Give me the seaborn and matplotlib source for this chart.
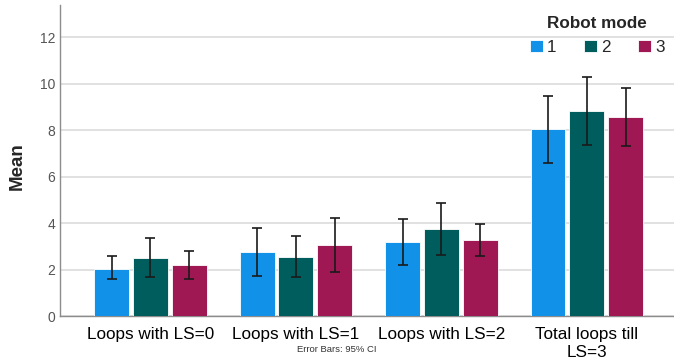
import numpy as np
import pandas as pd
import matplotlib
matplotlib.use("Agg")
import matplotlib.pyplot as plt
import seaborn as sns

# valores (média e IC 95%)
medidas = ["Loops with LS=0", "Loops with LS=1", "Loops with LS=2", "Total loops till\nLS=3"]
modos = ["1", "2", "3"]
media_modo1 = [2.03, 2.75, 3.20, 8.03]
media_modo2 = [2.50, 2.52, 3.74, 8.82]
media_modo3 = [2.20, 3.05, 3.27, 8.54]
ic_inf_modo1 = [1.60, 1.73, 2.19, 6.57]
ic_inf_modo2 = [1.68, 1.66, 2.62, 7.34]
ic_inf_modo3 = [1.60, 1.90, 2.58, 7.31]
ic_sup_modo1 = [2.58, 3.77, 4.19, 9.48]
ic_sup_modo2 = [3.35, 3.44, 4.87, 10.30]
ic_sup_modo3 = [2.80, 4.20, 3.97, 9.79]
cores = ["#1192e8", "#005d5d", "#9f1853"]

medias = [media_modo1, media_modo2, media_modo3]
ic_inf = [ic_inf_modo1, ic_inf_modo2, ic_inf_modo3]
ic_sup = [ic_sup_modo1, ic_sup_modo2, ic_sup_modo3]

linhas = []
for m, valores in zip(modos, medias):
    for med, v in zip(medidas, valores):
        linhas.append({"Medida": med, "Robot mode": m, "Mean": v})
df = pd.DataFrame(linhas)

sns.set_style("white")
plt.rcParams["font.family"] = ["Liberation Sans", "DejaVu Sans"]

fig = plt.figure(figsize=(6.74, 3.58), dpi=100)
ax = fig.add_axes([60 / 674, 1 - 316 / 358, 1 - 60 / 674, (316 - 5) / 358])

sns.barplot(data=df, x="Medida", y="Mean", hue="Robot mode", palette=cores,
            saturation=1, errorbar=None, gap=0.1, edgecolor="white",
            linewidth=0.6, ax=ax, zorder=3)

# barras de erro (IC 95%) nas posições das barras
for cont, med, lo, hi in zip(ax.containers, medias, ic_inf, ic_sup):
    xs = [p.get_x() + p.get_width() / 2 for p in cont.patches]
    med = np.array(med)
    ax.errorbar(xs, med, yerr=[med - np.array(lo), np.array(hi) - med],
                fmt="none", ecolor="#1a1a1a", elinewidth=1.2, capsize=3.6,
                capthick=1.2, zorder=4)

ax.set_xlim(-0.622, 3.6)
ax.set_ylim(0, 13.38)
ax.set_yticks([0, 2, 4, 6, 8, 10, 12])
ax.yaxis.grid(True, color="#d9d9d9", linewidth=1.1, zorder=0)
ax.set_axisbelow(True)
for s in ["top", "right"]:
    ax.spines[s].set_visible(False)
for s in ["left", "bottom"]:
    ax.spines[s].set_color("#8c8c8c")
    ax.spines[s].set_linewidth(1.0)

ax.tick_params(axis="y", length=0, pad=3.5, labelsize=10, labelcolor="#555555")
ax.tick_params(axis="x", length=0, pad=8, labelsize=12.3, labelcolor="black")
for t in ax.get_xticklabels():
    t.set_linespacing(1.2)

ax.set_xlabel("")
ax.set_ylabel("Mean", fontsize=13.5, fontweight="bold")
ax.yaxis.set_label_coords(-0.0554, 0.482)

handles, labels = ax.get_legend_handles_labels()
ax.legend(handles, labels, title="Robot mode", ncol=3, frameon=False,
          loc="upper right", bbox_to_anchor=(665 / 674, 1 - 16 / 358),
          bbox_transform=fig.transFigure, fontsize=12.3,
          title_fontproperties={"weight": "bold", "size": 12.3},
          handlelength=0.77, handleheight=0.77, handletextpad=0.25,
          columnspacing=1.6, borderpad=0, borderaxespad=0)

fig.text(0.5, 1 - 349 / 358, "Error Bars: 95% CI", ha="center", va="center",
         fontsize=6.8, color="#333333")

fig.savefig("out.png", dpi=100)
